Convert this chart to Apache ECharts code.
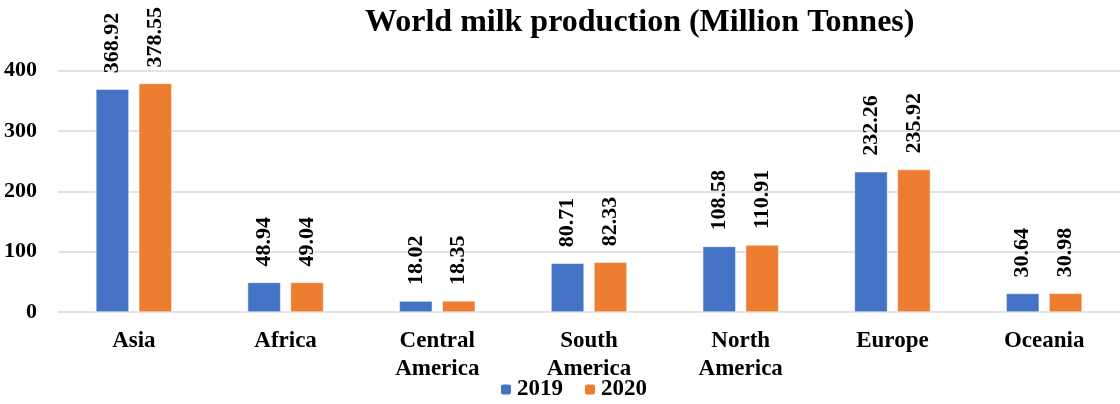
<!DOCTYPE html>
<html><head><meta charset="utf-8">
<script src="https://cdn.jsdelivr.net/npm/echarts@6/dist/echarts.min.js"></script>
<style>html,body{margin:0;padding:0;background:#fff}#c{width:1120px;height:404px}</style>
</head><body><div id="c"></div>
<script>
const categories = ['Asia', 'Africa', 'Central\nAmerica', 'South\nAmerica', 'North\nAmerica', 'Europe', 'Oceania'];
const values2019 = [368.92, 48.94, 18.02, 80.71, 108.58, 232.26, 30.64];
const values2020 = [378.55, 49.04, 18.35, 82.33, 110.91, 235.92, 30.98];
const yTicks = [0, 100, 200, 300, 400];

const font = 'Liberation Serif';
const chart = echarts.init(document.getElementById('c'));
const lbl = {
  show: true, position: 'top', rotate: 90, align: 'left', verticalAlign: 'middle', distance: 16,
  fontFamily: font, fontWeight: 'bold', fontSize: 22, color: '#000',
  formatter: p => p.value.toFixed(2)
};
chart.setOption({
  animation: false,
  title: { text: 'World milk production (Million Tonnes)', left: 360, top: 2,
    textStyle: { fontFamily: font, fontWeight: 'bold', fontSize: 32, color: '#000' } },
  legend: { bottom: 3, left: 499, padding: 0, itemWidth: 12, itemHeight: 12, itemGap: 20,
    textStyle: { fontFamily: font, fontWeight: 'bold', fontSize: 23, color: '#000' },
    data: ['2019', '2020'] },
  grid: { left: 58, right: 0, top: 70.5, bottom: 92, containLabel: false },
  xAxis: { type: 'category', data: categories,
    axisLine: { show: false }, axisTick: { show: false },
    axisLabel: { fontFamily: font, fontWeight: 'bold', fontSize: 23, color: '#000', lineHeight: 28, margin: 15 } },
  yAxis: { type: 'value', min: yTicks[0], max: yTicks[yTicks.length - 1], interval: 100,
    axisLine: { show: false }, axisTick: { show: false },
    splitLine: { lineStyle: { color: '#d9d9d9', width: 1.5 } },
    axisLabel: { fontFamily: font, fontWeight: 'bold', fontSize: 22, color: '#000', margin: 21 } },
  series: [
    { name: '2019', type: 'bar', data: values2019, barWidth: 33, barGap: '30%',
      itemStyle: { color: '#4472C4', borderColor: '#fff', borderWidth: 0.5 }, label: lbl },
    { name: '2020', type: 'bar', data: values2020, barWidth: 33,
      itemStyle: { color: '#ED7D31', borderColor: '#fff', borderWidth: 0.5 }, label: lbl }
  ]
});
</script></body></html>
